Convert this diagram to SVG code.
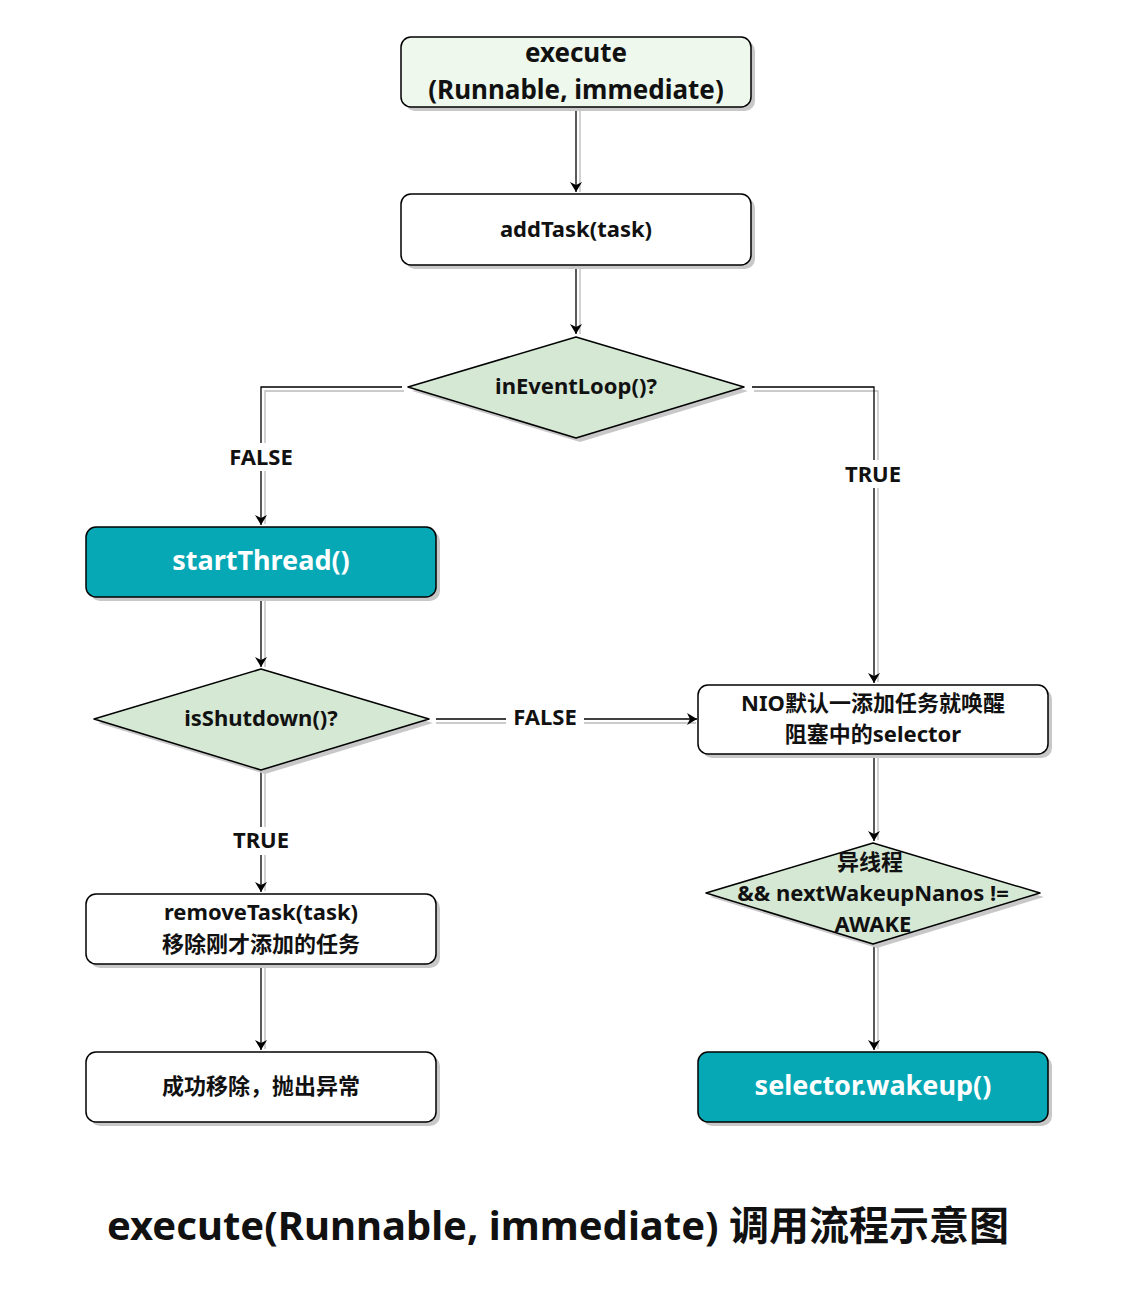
<svg xmlns="http://www.w3.org/2000/svg" width="1134" height="1312" viewBox="0 0 1134 1312">
<defs>
<marker id="ah" markerWidth="12" markerHeight="12" refX="10" refY="6" orient="auto" markerUnits="userSpaceOnUse"><path d="M0,0 L10,6 L0,12 L3,6 Z" fill="#000"/></marker>
</defs>
<style>
text{font-family:"Noto Sans","Noto Sans CJK SC",sans-serif;font-weight:bold;text-anchor:middle;fill:#111}
.sh{fill:#c8c8c8;stroke:none}
.b{stroke:#000;stroke-width:1.5}
.w{fill:#fff}.g{fill:#d5e8d4}.lg{fill:#eef8ec}.t{fill:#07a8b5}
.c{fill:none;stroke:#000;stroke-width:1.3}
.cs{fill:none;stroke:#bbb;stroke-width:1.3}
.wt{fill:#fff}
</style>
<rect width="1134" height="1312" fill="#fff"/>
<g id="connectors">
<path class="cs" d="M580,108V192 M580,266V334 M404,391H265V524 M754,391H878V682 M265,598V667 M436,723H696 M265,771V891 M878,756V840 M265,966V1049 M878,946V1049"/>
<path class="c" marker-end="url(#ah)" d="M576,107V192"/>
<path class="c" marker-end="url(#ah)" d="M576,265V334"/>
<path class="c" marker-end="url(#ah)" d="M402,387H261V525"/>
<path class="c" marker-end="url(#ah)" d="M752,387H874V683"/>
<path class="c" marker-end="url(#ah)" d="M261,597V667"/>
<path class="c" marker-end="url(#ah)" d="M436,719H697"/>
<path class="c" marker-end="url(#ah)" d="M261,770V892"/>
<path class="c" marker-end="url(#ah)" d="M874,754V841"/>
<path class="c" marker-end="url(#ah)" d="M261,964V1050"/>
<path class="c" marker-end="url(#ah)" d="M874,944V1050"/>
<rect x="220" y="443" width="82" height="28" fill="#fff"/><text x="261" y="465" font-size="22">FALSE</text>
<rect x="838" y="460" width="72" height="28" fill="#fff"/><text x="873" y="482" font-size="22">TRUE</text>
<rect x="506" y="704" width="78" height="28" fill="#fff"/><text x="545" y="725" font-size="22">FALSE</text>
<rect x="226" y="827" width="70" height="28" fill="#fff"/><text x="261" y="848" font-size="22">TRUE</text>
</g>
<g id="n1"><rect class="sh" x="405" y="41" width="350" height="70" rx="10"/><rect class="lg b" x="401" y="37" width="350" height="70" rx="10"/><text x="576" y="62" font-size="26">execute</text><text x="576" y="99" font-size="26">(Runnable, immediate)</text></g>
<g id="n2"><rect class="sh" x="405" y="198" width="350" height="71" rx="10"/><rect class="w b" x="401" y="194" width="350" height="71" rx="10"/><text x="576" y="237" font-size="22">addTask(task)</text></g>
<g id="n3"><path class="sh" d="M412,391L580,341L748,391L580,442Z"/><path class="g b" d="M408,387L576,337L744,387L576,438Z" stroke-linejoin="round"/><text x="576" y="394" font-size="22">inEventLoop()?</text></g>
<g id="n4"><rect class="sh" x="90" y="531" width="350" height="70" rx="10"/><rect class="t b" x="86" y="527" width="350" height="70" rx="10"/><text class="wt" x="261" y="570" font-size="27" style="fill:#fff">startThread()</text></g>
<g id="n5"><path class="sh" d="M98,723L265,673L433,723L265,774Z"/><path class="g b" d="M94,719L261,669L429,719L261,770Z" stroke-linejoin="round"/><text x="261" y="726" font-size="22">isShutdown()?</text></g>
<g id="n6"><rect class="sh" x="702" y="689" width="350" height="69" rx="10"/><rect class="w b" x="698" y="685" width="350" height="69" rx="10"/><text x="873" y="711" font-size="22">NIO默认一添加任务就唤醒</text><text x="873" y="742" font-size="22">阻塞中的selector</text></g>
<g id="n7"><path class="sh" d="M710,897L877,847L1044,897L877,948Z"/><path class="g b" d="M706,893L873,843L1040,893L873,944Z" stroke-linejoin="round"/><text x="870" y="870" font-size="22">异线程</text><text x="873" y="901" font-size="22">&amp;&amp; nextWakeupNanos !=</text><text x="873" y="932" font-size="22">AWAKE</text></g>
<g id="n8"><rect class="sh" x="90" y="898" width="350" height="70" rx="10"/><rect class="w b" x="86" y="894" width="350" height="70" rx="10"/><text x="261" y="920" font-size="22">removeTask(task)</text><text x="261" y="952" font-size="22">移除刚才添加的任务</text></g>
<g id="n9"><rect class="sh" x="90" y="1056" width="350" height="70" rx="10"/><rect class="w b" x="86" y="1052" width="350" height="70" rx="10"/><text x="261" y="1094" font-size="22">成功移除，抛出异常</text></g>
<g id="n10"><rect class="sh" x="702" y="1056" width="350" height="70" rx="10"/><rect class="t b" x="698" y="1052" width="350" height="70" rx="10"/><text x="873" y="1095" font-size="27" style="fill:#fff">selector.wakeup()</text></g>
<text x="558" y="1240" font-size="40">execute(Runnable, immediate) 调用流程示意图</text>
</svg>
